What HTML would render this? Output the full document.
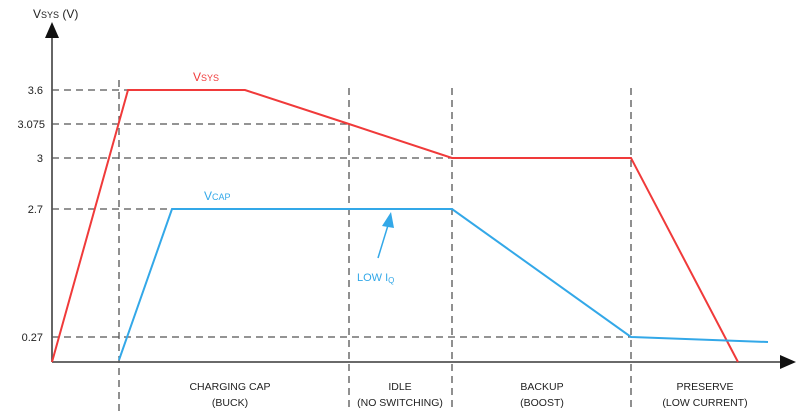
<!DOCTYPE html>
<html><head><meta charset="utf-8"><style>
body{margin:0;background:#fff;}
svg{display:block;font-family:"Liberation Sans",Arial,sans-serif;}
</style></head><body>
<svg width="800" height="419" viewBox="0 0 800 419" xmlns="http://www.w3.org/2000/svg">
<g stroke="#555" stroke-width="1.3" stroke-dasharray="7,5" fill="none">
<line x1="52" y1="90" x2="128" y2="90"/>
<line x1="52" y1="124" x2="349" y2="124"/>
<line x1="52" y1="158" x2="452" y2="158"/>
<line x1="52" y1="209" x2="172" y2="209"/>
<line x1="52" y1="337" x2="631" y2="337"/>
<line x1="119" y1="80" x2="119" y2="412"/>
<line x1="349" y1="88" x2="349" y2="412"/>
<line x1="452" y1="88" x2="452" y2="412"/>
<line x1="631" y1="88" x2="631" y2="412"/>
</g>
<g stroke="#555" stroke-width="1.8">
<line x1="52" y1="362" x2="52" y2="38"/>
<line x1="52" y1="362" x2="780" y2="362"/>
</g>
<polygon points="52,22 45,38 59,38" fill="#111"/>
<polygon points="796,362 780,355 780,369" fill="#111"/>
<polyline points="52,362 128,90 245,90 349,124 452,158 631,158 738,362" fill="none" stroke="#f03a3a" stroke-width="2"/>
<polyline points="119,360 172,209 452,209 631,337 768,342" fill="none" stroke="#33a8e8" stroke-width="2"/>
<line x1="378" y1="258" x2="389" y2="222" stroke="#33a8e8" stroke-width="1.5"/>
<polygon points="391,212 382,226 394,228" fill="#33a8e8"/>
<g font-size="11" fill="#222" text-anchor="end">
<text x="43" y="94">3.6</text>
<text x="45" y="128">3.075</text>
<text x="43" y="162">3</text>
<text x="43" y="213">2.7</text>
<text x="43" y="341">0.27</text>
</g>
<text x="33" y="18" font-size="12" fill="#222">V<tspan font-size="9">SYS</tspan> (V)</text>
<text x="193" y="81" font-size="12" fill="#f03a3a">V<tspan font-size="9">SYS</tspan></text>
<text x="204" y="200" font-size="12" fill="#33a8e8">V<tspan font-size="9">CAP</tspan></text>
<text x="357" y="281" font-size="11" fill="#33a8e8">LOW I<tspan font-size="8" dy="2">Q</tspan></text>
<g font-size="10.5" fill="#222" text-anchor="middle">
<text x="230" y="390">CHARGING CAP</text><text x="230" y="406">(BUCK)</text>
<text x="400" y="390">IDLE</text><text x="400" y="406">(NO SWITCHING)</text>
<text x="542" y="390">BACKUP</text><text x="542" y="406">(BOOST)</text>
<text x="705" y="390">PRESERVE</text><text x="705" y="406">(LOW CURRENT)</text>
</g>
</svg>
</body></html>
